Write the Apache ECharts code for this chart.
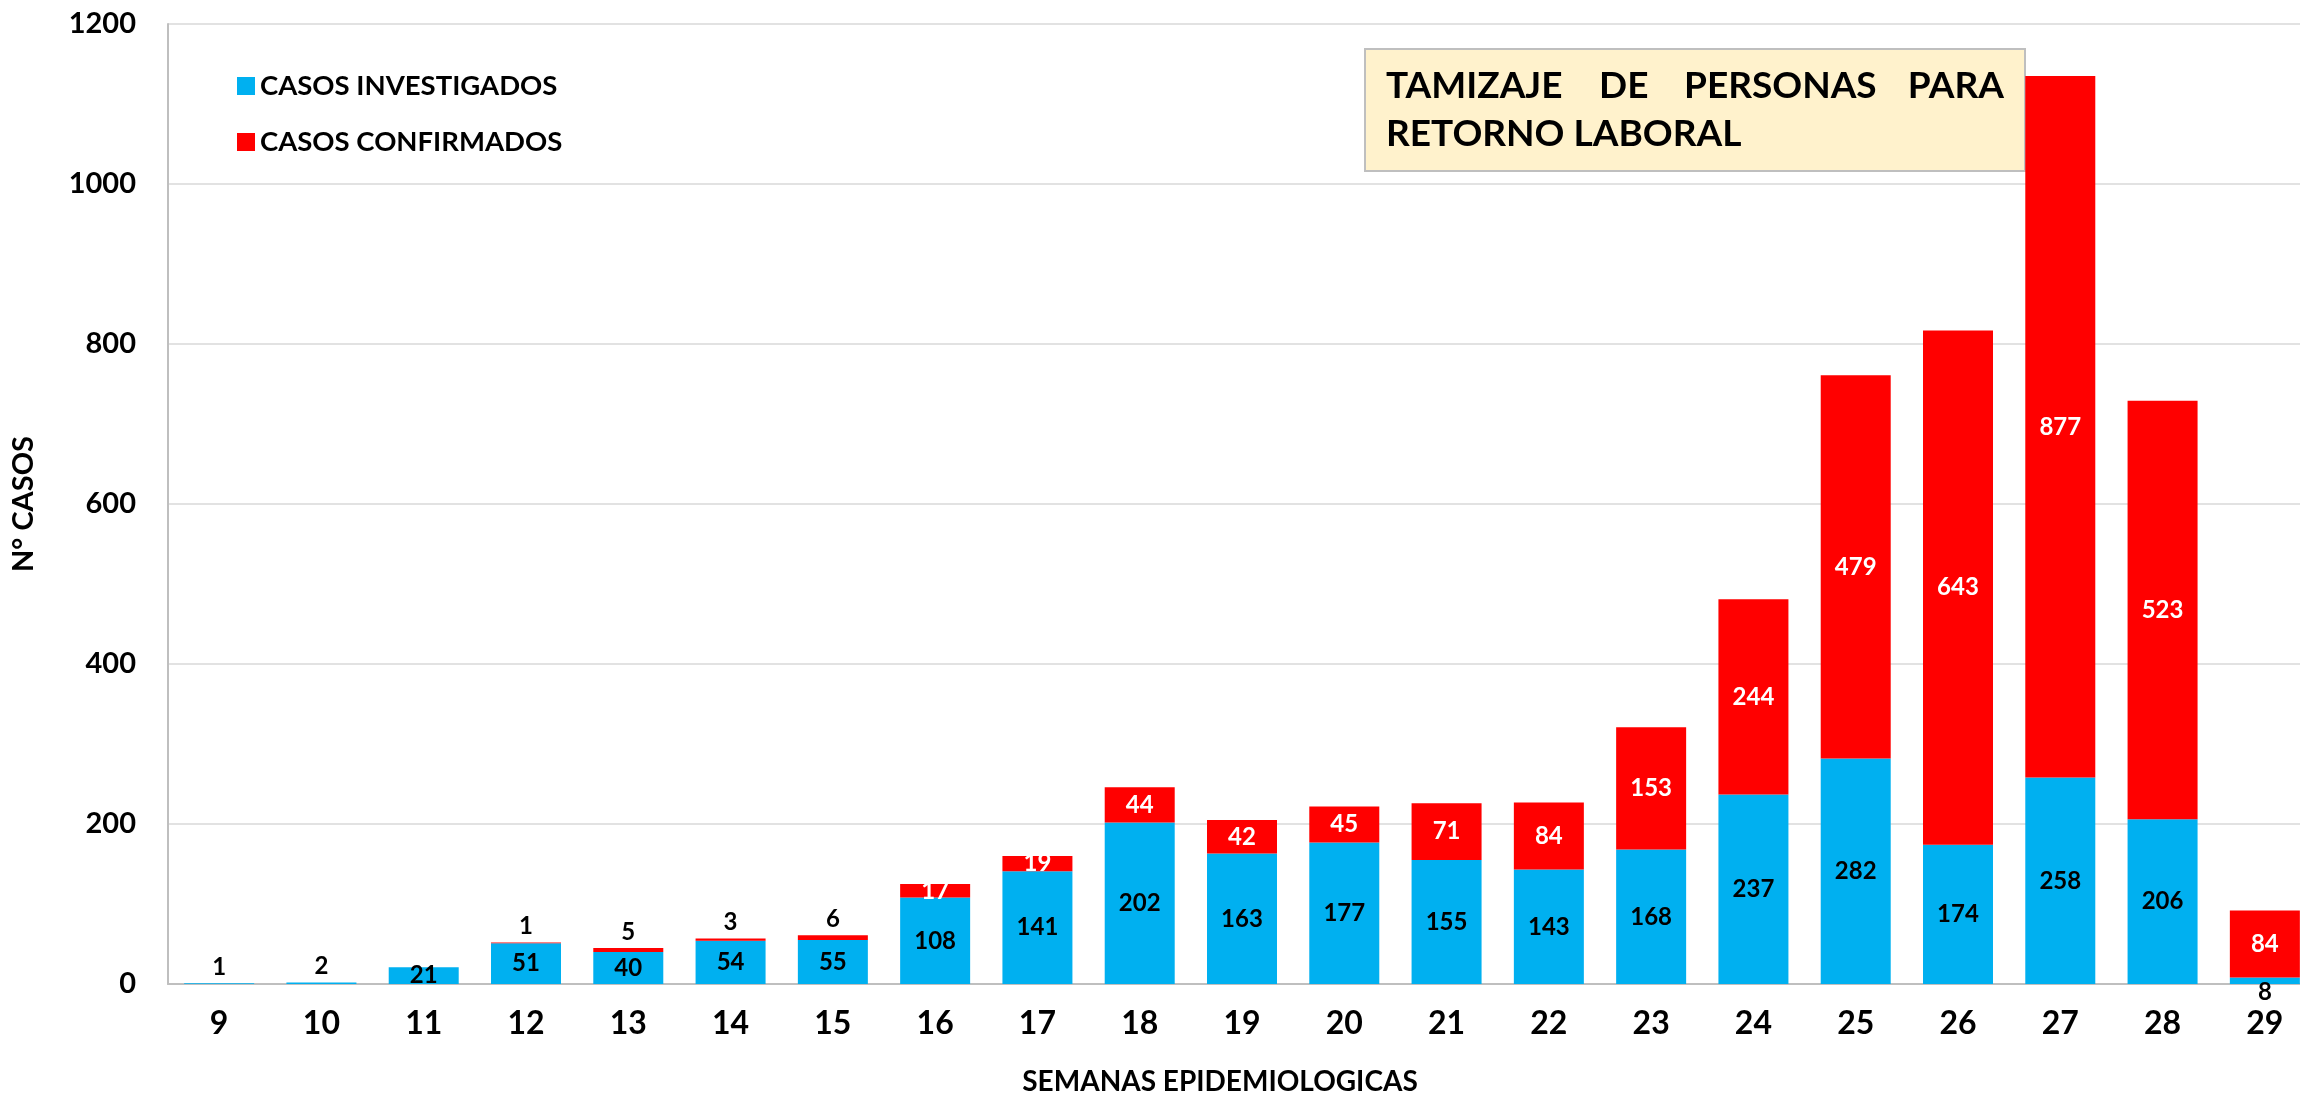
<!DOCTYPE html>
<html>
<head>
<meta charset="utf-8">
<title>Tamizaje de personas para retorno laboral</title>
<script src="https://cdn.jsdelivr.net/npm/echarts@6/dist/echarts.min.js"></script>
<style>
    html, body { margin: 0; padding: 0; background: #fff; }
    .grafico { width: 2300px; height: 1096px; }
</style>
</head>
<body>
<div class="grafico"></div>
<script>
// semanas epidemiologicas y casos
var semanas = ['9','10','11','12','13','14','15','16','17','18','19','20','21','22','23','24','25','26','27','28','29'];
var investigados = [1, 2, 21, 51, 40, 54, 55, 108, 141, 202, 163, 177, 155, 143, 168, 237, 282, 174, 258, 206, 8];
var confirmados = [0, 0, 0, 1, 5, 3, 6, 17, 19, 44, 42, 45, 71, 84, 153, 244, 479, 643, 877, 523, 84];
var ticksY = [0, 200, 400, 600, 800, 1000, 1200];

// posicion de etiquetas que no van dentro de la barra
var posInvestigados = { '9': 'top', '10': 'top', '29': 'bottom' };

var fuente = 'Lato';

var datosInv = investigados.map(function (v, i) {
    var pos = posInvestigados[semanas[i]];
    if (!pos) return v;
    var lab = { position: pos, distance: 4 };
    if (pos === 'bottom') lab.offset = [0, -8];
    return { value: v, label: lab };
});
var datosConf = confirmados.map(function (v) {
    if (v > 0 && v < 10) {
        return { value: v, label: { position: 'top', color: '#000', distance: 4 } };
    }
    return v;
});

var myChart = echarts.init(document.querySelector('.grafico'));
var option = {
    animation: false,
    textStyle: { fontFamily: fuente },
    grid: { left: 168, right: -16, top: 24, bottom: 112, outerBoundsMode: 'none', containLabel: false },
    legend: {
        orient: 'vertical',
        left: 232,
        top: 67,
        itemWidth: 18,
        itemHeight: 18,
        itemGap: 28,
        icon: 'rect',
        textStyle: { fontFamily: fuente, fontSize: 27.5, fontWeight: 'bold', color: '#000' },
        data: ['CASOS INVESTIGADOS', 'CASOS CONFIRMADOS']
    },
    xAxis: {
        type: 'category',
        data: semanas,
        name: 'SEMANAS EPIDEMIOLOGICAS',
        nameLocation: 'middle',
        nameGap: 84,
        nameTextStyle: { fontFamily: fuente, fontSize: 28, fontWeight: 'bold', color: '#000', padding: [0, 44, 0, 0] },
        axisLine: { lineStyle: { color: '#bfbfbf', width: 2 } },
        axisTick: { show: false },
        axisLabel: { fontFamily: fuente, fontSize: 32, fontWeight: 'bold', color: '#000', margin: 24 }
    },
    yAxis: {
        type: 'value',
        min: ticksY[0],
        max: ticksY[ticksY.length - 1],
        interval: 200,
        name: 'N° CASOS',
        nameLocation: 'middle',
        nameGap: 130,
        nameRotate: 90,
        nameTextStyle: { fontFamily: fuente, fontSize: 29, fontWeight: 'bold', color: '#000' },
        axisLine: { show: true, lineStyle: { color: '#bfbfbf', width: 2 } },
        axisTick: { show: false },
        splitLine: { lineStyle: { color: '#d9d9d9', width: 1.5 } },
        axisLabel: {
            fontFamily: fuente, fontSize: 29, fontWeight: 'bold', color: '#000', margin: 32,
            formatter: function (v) { return String(v); }
        }
    },
    series: [
        {
            name: 'CASOS INVESTIGADOS',
            type: 'bar',
            stack: 'casos',
            barWidth: 70,
            itemStyle: { color: '#00b0f0' },
            label: {
                show: true,
                position: 'inside',
                color: '#000',
                fontFamily: fuente,
                fontSize: 24,
                fontWeight: 'bold'
            },
            data: datosInv
        },
        {
            name: 'CASOS CONFIRMADOS',
            type: 'bar',
            stack: 'casos',
            barWidth: 70,
            itemStyle: { color: '#ff0000' },
            label: {
                show: true,
                position: 'inside',
                color: '#fff',
                fontFamily: fuente,
                fontSize: 24,
                fontWeight: 'bold',
                formatter: function (p) { return p.value > 0 ? p.value : ''; }
            },
            data: datosConf
        }
    ],
    graphic: [
        {
            type: 'group',
            left: 1364,
            top: 48,
            children: [
                {
                    type: 'rect',
                    shape: { x: 0, y: 0, width: 660, height: 122 },
                    style: { fill: '#fff2cc', stroke: '#bfbfbf', lineWidth: 2 }
                },
                { type: 'text', x: 21, y: 37, style: { text: 'TAMIZAJE', font: 'bold 37px Lato', fill: '#000', textVerticalAlign: 'middle' } },
                { type: 'text', x: 234, y: 37, style: { text: 'DE', font: 'bold 37px Lato', fill: '#000', textVerticalAlign: 'middle' } },
                { type: 'text', x: 319, y: 37, style: { text: 'PERSONAS', font: 'bold 37px Lato', fill: '#000', textVerticalAlign: 'middle' } },
                { type: 'text', x: 639, y: 37, style: { text: 'PARA', font: 'bold 37px Lato', fill: '#000', textAlign: 'right', textVerticalAlign: 'middle' } },
                { type: 'text', x: 21, y: 85, style: { text: 'RETORNO LABORAL', font: 'bold 37px Lato', fill: '#000', textVerticalAlign: 'middle' } }
            ]
        }
    ]
};
myChart.setOption(option);
</script>
</body>
</html>
